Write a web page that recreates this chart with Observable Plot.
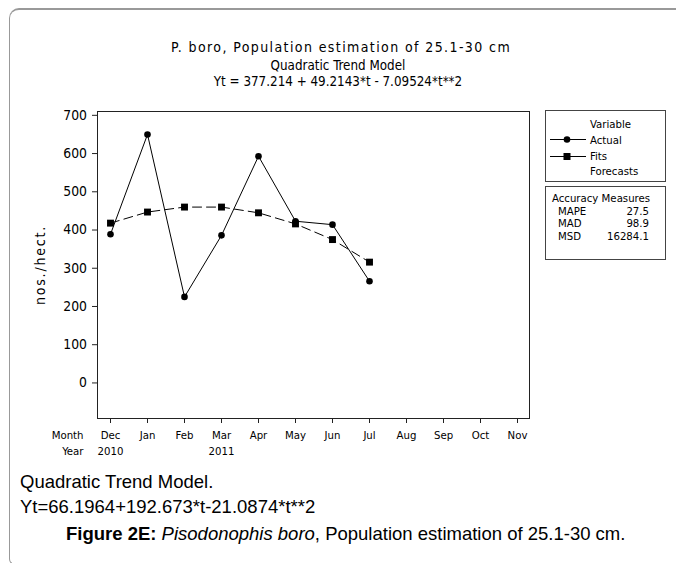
<!DOCTYPE html>
<html><head><meta charset="utf-8">
<script src="https://cdn.jsdelivr.net/npm/d3@7"></script>
<script src="https://cdn.jsdelivr.net/npm/@observablehq/plot@0.6"></script>
<style>
html,body{margin:0;padding:0;background:#fff;overflow:hidden;width:676px;height:563px;}
#fig{position:relative;width:676px;height:563px;overflow:hidden;}
.border{position:absolute;left:9px;top:8px;width:720px;height:554px;border-left:1px solid #999;border-top:2px solid #999;border-bottom:1px solid #999;border-top-left-radius:10px;border-bottom-left-radius:6px;}
.t{position:absolute;left:0;width:676px;text-align:center;font-family:"DejaVu Sans Condensed","DejaVu Sans",sans-serif;white-space:nowrap;color:#000;}
.cap{position:absolute;font-family:"Liberation Sans",Arial,sans-serif;font-size:18.5px;line-height:18.5px;white-space:nowrap;color:#000;}
.lg{position:absolute;border:1px solid #444;background:#fff;font-family:"DejaVu Sans Condensed","DejaVu Sans",sans-serif;font-size:11.3px;color:#000;}
.lg div{position:absolute;white-space:nowrap;line-height:11px;}
#chart{position:absolute;left:0;top:100px;}
</style></head>
<body><div id="fig">
<div class="border"></div>
<div class="t" style="top:40px;font-size:14px;line-height:14px;letter-spacing:1.4px;padding-left:6px;box-sizing:border-box;">P. boro, Population estimation of 25.1-30 cm</div>
<div class="t" style="top:58.7px;font-size:13.3px;line-height:13.3px;">Quadratic Trend Model</div>
<div class="t" style="top:74.7px;font-size:13.3px;line-height:13.3px;">Yt = 377.214 + 49.2143*t - 7.09524*t**2</div>
<div id="chart"></div>
<div class="lg" id="leg1" style="left:545px;top:110px;width:119px;height:70px;"></div>
<div class="lg" id="leg2" style="left:545px;top:186px;width:119px;height:72px;"></div>
<div class="cap" style="left:20px;top:473px;">Quadratic Trend Model.</div>
<div class="cap" style="left:20px;top:497.5px;">Yt=66.1964+192.673*t-21.0874*t**2</div>
<div class="cap" style="left:66px;top:525px;"><b>Figure 2E:</b> <i>Pisodonophis boro</i>, Population estimation of 25.1-30 cm.</div>
</div>
<script>
const months = ["Dec","Jan","Feb","Mar","Apr","May","Jun","Jul","Aug","Sep","Oct","Nov"];
const years = ["2010","","","2011","","","","","","","",""];
const observedMonths = ["Dec","Jan","Feb","Mar","Apr","May","Jun","Jul"];
const actual = [389, 650, 225, 386, 593, 423, 414, 266];
const fits = [418, 447, 460, 460, 445, 416, 375, 316];
const yTicks = [0, 100, 200, 300, 400, 500, 600, 700];
const measureNames = ["MAPE", "MAD", "MSD"];
const measureValues = ["27.5", "98.9", "16284.1"];

const rows = observedMonths.map((m, i) => ({month: m, actual: actual[i], fit: fits[i]}));
const yearRows = months.map((m, i) => ({month: m, year: years[i]})).filter(d => d.year);
const font = '"DejaVu Sans Condensed","DejaVu Sans",sans-serif';

const chart = Plot.plot({
  width: 676, height: 365,
  marginTop: 11, marginBottom: 47, marginLeft: 97, marginRight: 147,
  style: {fontFamily: font, background: "transparent", color: "black", overflow: "visible"},
  x: {type: "point", domain: months, padding: 0.27},
  y: {domain: [-93, 710]},
  marks: [
    Plot.frame({stroke: "#222"}),
    Plot.axisY({ticks: yTicks, tickSize: 5, tickPadding: 5.5, fontSize: 13.8, label: null, stroke: "#222"}),
    Plot.axisX({tickSize: 5, tickPadding: 7, fontSize: 11.3, label: null, stroke: "#222"}),
    Plot.text(yearRows, {x: "month", text: "year", frameAnchor: "bottom", lineAnchor: "top", dy: 28, fontSize: 11.3}),
    Plot.text(["Month"], {x: () => months[0], text: d => d, frameAnchor: "bottom", lineAnchor: "top", dy: 12, dx: -27, textAnchor: "end", fontSize: 11.3}),
    Plot.text(["Year"], {x: () => months[0], text: d => d, frameAnchor: "bottom", lineAnchor: "top", dy: 28, dx: -27, textAnchor: "end", fontSize: 11.3}),
    Plot.line(rows, {x: "month", y: "fit", stroke: "black", strokeWidth: 1, strokeDasharray: "9,5"}),
    Plot.dot(rows, {x: "month", y: "fit", symbol: "square", r: 3.9, fill: "black", stroke: null}),
    Plot.line(rows, {x: "month", y: "actual", stroke: "black", strokeWidth: 1}),
    Plot.dot(rows, {x: "month", y: "actual", r: 3.3, fill: "black", stroke: null}),
    Plot.text(["nos./hect."], {text: d => d, frameAnchor: "left", rotate: -90, dx: -56.5, fontSize: 14, textAnchor: "middle"})
  ]
});
d3.select(chart).selectAll("text").filter(function() { return this.textContent === "nos./hect."; }).attr("letter-spacing", "1.8px");
document.getElementById("chart").appendChild(chart);

// Legend 1
const leg1 = document.getElementById("leg1");
function add(parent, html, style) { const d = document.createElement("div"); d.innerHTML = html; d.setAttribute("style", style); parent.appendChild(d); return d; }
add(leg1, "Variable", "left:44px;top:8px;");
add(leg1, '<svg width="36" height="9"><line x1="0" y1="4.5" x2="36" y2="4.5" stroke="black"/><circle cx="17" cy="4.5" r="3.3" fill="black"/></svg>', "left:4px;top:24px;line-height:0;");
add(leg1, "Actual", "left:44px;top:24px;");
add(leg1, '<svg width="36" height="9"><line x1="0" y1="4.5" x2="36" y2="4.5" stroke="black"/><rect x="13.5" y="1" width="7" height="7" fill="black"/></svg>', "left:4px;top:41px;line-height:0;");
add(leg1, "Fits", "left:44px;top:40px;");
add(leg1, "Forecasts", "left:44px;top:55px;");
// Legend 2
const leg2 = document.getElementById("leg2");
add(leg2, "Accuracy Measures", "left:6px;top:5.5px;");
measureNames.forEach((n, i) => {
  add(leg2, n, `left:12px;top:${18.5 + i * 12.8}px;`);
  add(leg2, measureValues[i], `right:16px;top:${18.5 + i * 12.8}px;text-align:right;`);
});
</script>
</body></html>
